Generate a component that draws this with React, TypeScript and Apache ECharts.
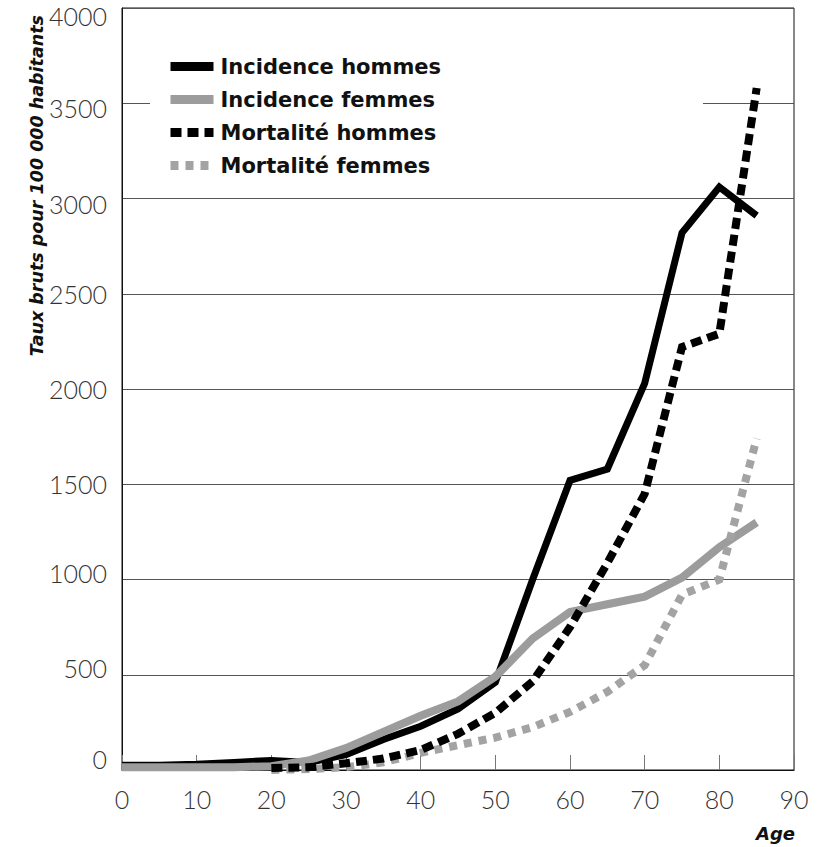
import React, { useEffect, useRef } from "react";
import * as echarts from "echarts";

const ages = [0, 5, 10, 15, 20, 25, 30, 35, 40, 45, 50, 55, 60, 65, 70, 75, 80, 85];
const incidenceHommes = [25, 25, 30, 40, 50, 40, 80, 160, 230, 320, 460, 1000, 1520, 1580, 2030, 2820, 3060, 2910];
const incidenceFemmes = [15, 15, 15, 15, 20, 50, 115, 200, 285, 360, 490, 690, 830, 870, 910, 1010, 1170, 1300];
const mortAges = [20, 25, 30, 35, 40, 45, 50, 55, 60, 65, 70, 75, 80, 85];
const mortaliteHommes = [10, 15, 35, 60, 105, 190, 300, 465, 750, 1086, 1450, 2220, 2290, 3580];
const mortaliteFemmes = [0, 5, 15, 40, 90, 130, 170, 225, 305, 410, 550, 920, 1000, 1740];
const seriesNames = ["Incidence hommes", "Incidence femmes", "Mortalité hommes", "Mortalité femmes"];
const yTitle = "Taux bruts pour 100 000 habitants";
const xTitle = "Age";

const pair = (xs: number[], ys: number[]) => xs.map((x, i) => [x, ys[i]]);

export default function App() {
  const ref = useRef<HTMLDivElement>(null);
  useEffect(() => {
    if (!ref.current) return;
    const chart = echarts.init(ref.current, null, { renderer: "svg" });
    const gray = "#9c9c9c";
    const labelBase = { fontFamily: "Lato", fontWeight: 300, fontSize: 25, color: "#333" };
    // small vertical shifts of y tick labels, like the scanned original
    const yLabelStyle = (v: number) => {
      if (v >= 4000) return "dn8";
      if (v >= 3000) return "dn5";
      if (v >= 1500) return "n";
      if (v >= 500) return "up7";
      return "up11";
    };
    chart.setOption({
      animation: false,
      backgroundColor: "#fff",
      grid: {
        left: 122,
        right: 23,
        top: 8,
        bottom: 77,
        show: true,
        borderColor: "#111",
        borderWidth: 1,
        containLabel: false,
      },
      legend: {
        data: seriesNames,
        orient: "vertical",
        left: 150,
        top: 42,
        padding: [14, 262, 14, 16],
        backgroundColor: "#fff",
        itemWidth: 43,
        itemHeight: 14,
        itemGap: 12,
        lineStyle: { width: 9, cap: "butt" },
        itemStyle: { opacity: 0, borderWidth: 0 },
        textStyle: {
          fontFamily: "DejaVu Sans",
          fontWeight: "bold",
          fontSize: 21,
          color: "#111",
          lineHeight: 21,
          padding: [0, 0, 0, 2],
        },
      },
      xAxis: {
        type: "value",
        min: 0,
        max: 90,
        interval: 10,
        axisLine: { show: true, onZero: false, lineStyle: { color: "#111", width: 1 } },
        axisTick: { show: true, inside: true, length: 15, lineStyle: { color: "#777", width: 1 } },
        splitLine: { show: false },
        axisLabel: { margin: 16, ...labelBase },
      },
      yAxis: {
        type: "value",
        min: 0,
        max: 4000,
        interval: 500,
        axisLine: { show: true, lineStyle: { color: "#111", width: 1 } },
        axisTick: { show: false },
        splitLine: { show: true, lineStyle: { color: "#555", width: 1 } },
        axisLabel: {
          margin: 15,
          ...labelBase,
          verticalAlign: "middle",
          formatter: (v: number) => `{${yLabelStyle(v)}|${String(v)}}`,
          rich: {
            n: { ...labelBase },
            dn8: { ...labelBase, padding: [16, 0, 0, 0] },
            dn5: { ...labelBase, padding: [10, 0, 0, 0] },
            up7: { ...labelBase, padding: [0, 0, 14, 0] },
            up11: { ...labelBase, padding: [0, 0, 22, 0] },
          },
        },
      },
      graphic: [
        {
          type: "text",
          x: 37,
          y: 15,
          rotation: Math.PI / 2,
          style: {
            text: yTitle,
            font: "italic bold 17.5px 'DejaVu Sans'",
            fill: "#111",
            textAlign: "right",
            textVerticalAlign: "middle",
            align: "right",
            verticalAlign: "middle",
          },
        },
        {
          type: "text",
          right: 22,
          top: 824,
          style: {
            text: xTitle,
            font: "italic bold 18px 'DejaVu Sans'",
            fill: "#111",
          },
        },
      ],
      series: [
        {
          name: seriesNames[0],
          type: "line",
          symbol: "none",
          data: pair(ages, incidenceHommes),
          lineStyle: { color: "#000", width: 7, cap: "butt", join: "miter" },
          itemStyle: { color: "#000" },
          z: 2,
        },
        {
          name: seriesNames[1],
          type: "line",
          symbol: "none",
          data: pair(ages, incidenceFemmes),
          lineStyle: { color: gray, width: 8, cap: "butt", join: "miter" },
          itemStyle: { color: gray },
          z: 3,
        },
        {
          name: seriesNames[3],
          type: "line",
          symbol: "none",
          data: pair(mortAges, mortaliteFemmes),
          lineStyle: { color: "#a3a3a3", width: 8, type: [8, 7], cap: "butt", join: "miter" },
          itemStyle: { color: "#a3a3a3" },
          z: 4,
        },
        {
          name: seriesNames[2],
          type: "line",
          symbol: "none",
          data: pair(mortAges, mortaliteHommes),
          lineStyle: { color: "#000", width: 8, type: [11, 6], cap: "butt", join: "miter" },
          itemStyle: { color: "#000" },
          z: 5,
        },
      ],
    });
    return () => chart.dispose();
  }, []);
  return (
    <div
      ref={ref}
      style={{ position: "absolute", left: 0, top: 0, width: 817, height: 847 }}
    />
  );
}
